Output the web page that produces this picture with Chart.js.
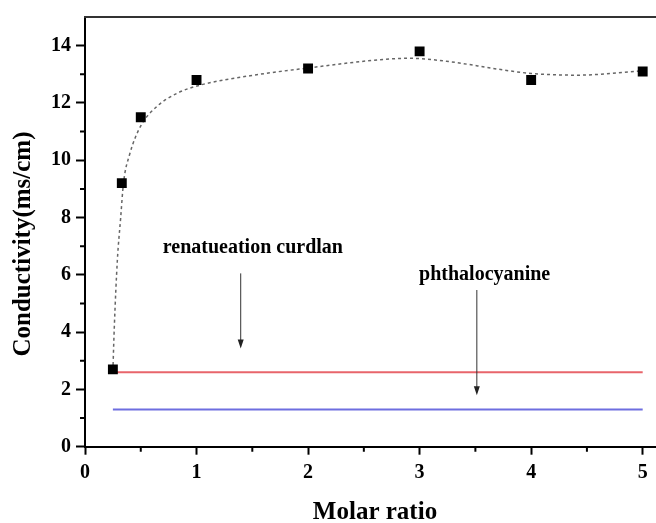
<!DOCTYPE html>
<html>
<head>
<meta charset="utf-8">
<script src="https://cdn.jsdelivr.net/npm/chart.js@4.4.1/dist/chart.umd.min.js"></script>
<style>
  html, body { margin: 0; padding: 0; background: #fff; overflow: hidden; }
  #wrap { width: 672px; height: 523px; }
</style>
</head>
<body>
<div id="wrap"><canvas id="chart" width="672" height="523"></canvas></div>
<script>
// measured points
const ratios = [0.25, 0.33, 0.5, 1, 2, 3, 4, 5];
const conductivity = [2.7, 9.2, 11.5, 12.8, 13.2, 13.8, 12.8, 13.1];

// fitted trend curve
const fitX = [0.25, 0.263, 0.29, 0.32, 0.345, 0.40, 0.5, 0.643, 0.822, 1.03, 1.48, 2.0, 2.675, 2.91, 3.27, 3.7, 4.0, 4.41, 5.0];
const fitY = [2.65, 4.2, 6.5, 8.0, 9.2, 10.2, 11.2, 11.87, 12.33, 12.62, 12.95, 13.22, 13.52, 13.56, 13.44, 13.18, 13.03, 12.97, 13.12];

// reference levels
const refNames = ['renatueation curdlan', 'phthalocyanine'];
const refLevels = [2.6, 1.3];
const refRange = [0.25, 5];

const SERIF = "'Liberation Serif', 'Times New Roman', serif";
const yTitle = 'Conductivity(ms/cm)';

// label text + arrow, in data units
const notes = [
  { text: refNames[0], tx: 0.697, ty: 6.76, ax: 1.396, ay0: 6.05, ay1: 3.43 },
  { text: refNames[1], tx: 2.995, ty: 5.82, ax: 3.513, ay0: 5.47, ay1: 1.80 }
];

const toXY = (xs, ys) => xs.map((x, i) => ({ x: x, y: ys[i] }));
const level = v => refRange.map(x => ({ x: x, y: v }));

// minor ticks, top frame, y title, annotations
const extras = {
  id: 'extras',
  afterDraw(chart) {
    const ctx = chart.ctx;
    const xs = chart.scales.x, ys = chart.scales.y;
    const area = chart.chartArea;
    ctx.save();
    ctx.strokeStyle = '#000';
    ctx.lineWidth = 2;
    ctx.beginPath();
    for (let v = 0.5; v < 5.2; v += 1) {
      const px = xs.getPixelForValue(v);
      ctx.moveTo(px, area.bottom);
      ctx.lineTo(px, area.bottom + 5);
    }
    for (let v = 1; v < 15; v += 2) {
      const py = ys.getPixelForValue(v);
      ctx.moveTo(area.left, py);
      ctx.lineTo(area.left - 5, py);
    }
    ctx.stroke();

    ctx.strokeStyle = '#333';
    ctx.beginPath();
    ctx.moveTo(area.left - 1, area.top);
    ctx.lineTo(area.right, area.top);
    ctx.stroke();

    // vertical axis title
    ctx.save();
    ctx.translate(24, 244);
    ctx.rotate(-Math.PI / 2);
    ctx.font = 'bold 25px ' + SERIF;
    ctx.fillStyle = '#000';
    ctx.textAlign = 'center';
    ctx.textBaseline = 'middle';
    ctx.fillText(yTitle, 0, 0);
    ctx.restore();

    ctx.font = 'bold 20px ' + SERIF;
    ctx.fillStyle = '#000';
    ctx.textAlign = 'left';
    ctx.textBaseline = 'alphabetic';
    notes.forEach(n => {
      ctx.fillText(n.text, xs.getPixelForValue(n.tx), ys.getPixelForValue(n.ty));
      const ax = xs.getPixelForValue(n.ax);
      const y0 = ys.getPixelForValue(n.ay0);
      const y1 = ys.getPixelForValue(n.ay1);
      ctx.strokeStyle = '#333';
      ctx.lineWidth = 1;
      ctx.beginPath();
      ctx.moveTo(ax, y0);
      ctx.lineTo(ax, y1 - 6);
      ctx.stroke();
      ctx.fillStyle = '#222';
      ctx.beginPath();
      ctx.moveTo(ax - 3, y1 - 9);
      ctx.lineTo(ax + 3, y1 - 9);
      ctx.lineTo(ax, y1);
      ctx.closePath();
      ctx.fill();
      ctx.fillStyle = '#000';
    });
    ctx.restore();
  }
};

new Chart(document.getElementById('chart'), {
  type: 'line',
  data: {
    datasets: [
      {
        label: 'Conductivity',
        data: toXY(ratios, conductivity),
        showLine: false,
        pointStyle: 'rect',
        pointRadius: 7,
        pointBackgroundColor: '#000',
        pointBorderColor: '#000',
        pointBorderWidth: 0
      },
      {
        label: 'fit',
        data: toXY(fitX, fitY),
        borderColor: '#666',
        borderWidth: 1.5,
        borderDash: [3, 3],
        pointRadius: 0,
        cubicInterpolationMode: 'monotone'
      },
      {
        label: refNames[0],
        data: level(refLevels[0]),
        borderColor: '#e8656b',
        borderWidth: 2,
        pointRadius: 0
      },
      {
        label: refNames[1],
        data: level(refLevels[1]),
        borderColor: '#6e6ee0',
        borderWidth: 2,
        pointRadius: 0
      }
    ]
  },
  options: {
    responsive: false,
    animation: false,
    layout: { padding: { top: 16.7, right: 7, left: 0, bottom: 0 } },
    plugins: { legend: { display: false }, tooltip: { enabled: false } },
    scales: {
      x: {
        type: 'linear',
        min: 0,
        max: 5.2,
        afterFit(s) { s.height = 76.3; },
        border: { color: '#000', width: 2 },
        grid: { drawOnChartArea: false, tickLength: 8, tickColor: '#000', tickWidth: 2 },
        ticks: {
          stepSize: 1,
          includeBounds: false,
          padding: 6,
          color: '#000',
          font: { family: SERIF, size: 20, weight: 'bold' }
        },
        title: {
          display: true,
          text: 'Molar ratio',
          color: '#000',
          font: { family: SERIF, size: 25, weight: 'bold', lineHeight: 1 },
          padding: { top: 0, bottom: -2 }
        }
      },
      y: {
        min: 0,
        max: 15,
        afterFit(s) { s.width = 85; },
        border: { color: '#000', width: 2 },
        grid: { drawOnChartArea: false, tickLength: 9, tickColor: '#000', tickWidth: 2 },
        ticks: {
          stepSize: 2,
          includeBounds: false,
          padding: 5,
          color: '#000',
          font: { family: SERIF, size: 20, weight: 'bold' }
        }
      }
    }
  },
  plugins: [extras]
});
</script>
</body>
</html>
